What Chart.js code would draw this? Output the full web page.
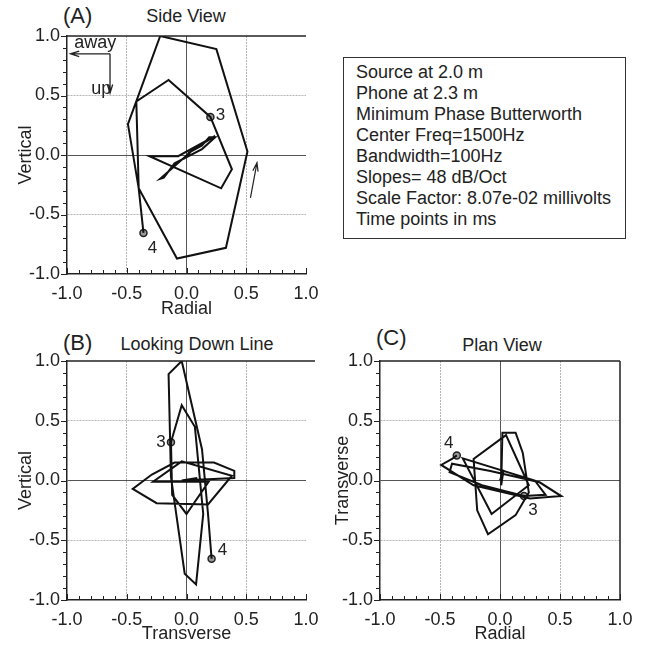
<!DOCTYPE html>
<html>
<head>
<meta charset="utf-8">
<script src="https://cdn.jsdelivr.net/npm/chart.js@4.4.0/dist/chart.umd.min.js"></script>
<style>
body { margin: 0; background: #fff; width: 647px; height: 648px; position: relative; overflow: hidden;
       font-family: "Liberation Sans", Arial, sans-serif; color: #222; }
canvas { position: absolute; }
#cA { left: 0; top: 0; }
#cB { left: 0; top: 330px; }
#cC { left: 320px; top: 330px; }
.tag { position: absolute; font-size: 22px; white-space: nowrap; line-height: 24px; }
.ttl { position: absolute; font-size: 18px; white-space: nowrap; width: 220px; text-align: center; line-height: 22px; }
#info { position: absolute; left: 343px; top: 57px; width: 283px; height: 182px; border: 1.5px solid #333;
        box-sizing: border-box; padding: 4px 0 0 12px; font-size: 18px; line-height: 21px; }
</style>
</head>
<body>
<div class="tag" style="left:63px;top:4px">(A)</div>
<div class="ttl" style="left:76px;top:5px">Side View</div>
<div class="tag" style="left:63px;top:331px">(B)</div>
<div class="ttl" style="left:87px;top:333px">Looking Down Line</div>
<div class="tag" style="left:376px;top:326px">(C)</div>
<div class="ttl" style="left:392px;top:334px">Plan View</div>
<div id="info">
Source at 2.0 m<br>
Phone at 2.3 m<br>
Minimum Phase Butterworth<br>
Center Freq=1500Hz<br>
Bandwidth=100Hz<br>
Slopes= 48 dB/Oct<br>
Scale Factor: 8.07e-02 millivolts<br>
Time points in ms
</div>
<canvas id="cA" width="330" height="325"></canvas>
<canvas id="cB" width="330" height="318"></canvas>
<canvas id="cC" width="327" height="318"></canvas>
<script>
// particle motion, one vertex per sample, in time order
const radial     = [0.00, 0.03, 0.01, 0.02, 0.13, 0.19, 0.24, 0.13, -0.10, -0.19, -0.22, 0.05, 0.24, -0.07, -0.31,
                    0.29, 0.38, 0.20, -0.15, -0.42, -0.40, -0.08, 0.33, 0.51, 0.25, -0.22, -0.49, -0.40, -0.36];
const transverse = [0.00, 0.09, -0.04, 0.40, 0.40, 0.23, -0.10, -0.29, -0.45, -0.25, 0.18, 0.38, -0.04, -0.28, 0.185,
                    0.00, -0.12, -0.13, -0.04, 0.07, 0.14, 0.08, -0.015, -0.13, -0.15, -0.04, 0.13, 0.18, 0.21];
const vertical   = [0.00, 0.02, 0.00, 0.02, 0.08, 0.15, 0.15, 0.05, -0.07, -0.19, -0.20, 0.04, 0.16, -0.01, -0.01,
                    -0.28, -0.12, 0.32, 0.63, 0.45, -0.28, -0.87, -0.78, 0.03, 0.89, 1.00, 0.26, -0.28, -0.655];
const markerIndex = [17, 28];
const markerLabels = ['3', '4'];

const FONT = '"Liberation Sans", Arial, sans-serif';

function tickLabel(v) {
    const k = Math.round(v * 10);
    return k % 5 === 0 ? (k / 10).toFixed(1) : '';
}

function gridColor(c) {
    const k = Math.round(c.tick.value * 10);
    if (k === 0) return '#555';
    if (Math.abs(k) === 5) return '#b4b4b4';
    return 'rgba(0,0,0,0)';
}

function gridDash(c) {
    if (!c.tick) return [];
    return Math.round(c.tick.value * 10) === 0 ? [] : [2, 1];
}

// top/right frame lines and the small tick marks
const frame = {
    id: 'frame',
    afterDraw(chart, args, opts) {
        const { ctx, chartArea: a, scales: { x, y } } = chart;
        ctx.save();
        ctx.strokeStyle = '#222';
        ctx.lineWidth = 1.5;
        ctx.beginPath();
        ctx.moveTo(a.left, a.top);
        ctx.lineTo(a.right + (opts.topExtra || 0), a.top);
        if (opts.right) {
            ctx.moveTo(a.right, a.top);
            ctx.lineTo(a.right, a.bottom);
        }
        ctx.stroke();
        ctx.lineWidth = 1;
        ctx.beginPath();
        y.ticks.forEach(t => {
            const py = Math.round(y.getPixelForValue(t.value)) + 0.5;
            const len = Math.round(t.value * 10) % 5 === 0 ? 6 : 4;
            ctx.moveTo(a.left, py);
            ctx.lineTo(a.left - len, py);
        });
        x.ticks.forEach(t => {
            const px = Math.round(x.getPixelForValue(t.value)) + 0.5;
            const len = Math.round(t.value * 10) % 5 === 0 ? 6 : 4;
            ctx.moveTo(px, a.bottom);
            ctx.lineTo(px, a.bottom - len);
        });
        ctx.stroke();
        ctx.restore();
    }
};

// time labels next to the marked samples
const tags = {
    id: 'tags',
    afterDatasetsDraw(chart, args, opts) {
        const { ctx } = chart;
        const pts = chart.getDatasetMeta(1).data;
        ctx.save();
        ctx.font = '17px ' + FONT;
        ctx.fillStyle = '#222';
        ctx.textAlign = 'center';
        ctx.textBaseline = 'middle';
        pts.forEach((p, i) => {
            const off = opts.offsets[i];
            ctx.fillText(markerLabels[i], p.x + off[0], p.y + off[1]);
        });
        ctx.restore();
    }
};

// orientation arrows of the side view
function arrow(ctx, x0, y0, x1, y1) {
    const ang = Math.atan2(y1 - y0, x1 - x0);
    ctx.beginPath();
    ctx.moveTo(x0, y0);
    ctx.lineTo(x1, y1);
    ctx.moveTo(x1 - 9 * Math.cos(ang - 0.3), y1 - 9 * Math.sin(ang - 0.3));
    ctx.lineTo(x1, y1);
    ctx.lineTo(x1 - 9 * Math.cos(ang + 0.3), y1 - 9 * Math.sin(ang + 0.3));
    ctx.stroke();
}
const notes = {
    id: 'notes',
    afterDatasetsDraw(chart, args, opts) {
        if (!opts.show) return;
        const { ctx, scales: { x, y } } = chart;
        const X = v => x.getPixelForValue(v), Y = v => y.getPixelForValue(v);
        ctx.save();
        ctx.strokeStyle = '#222';
        ctx.lineWidth = 1.3;
        arrow(ctx, X(-0.64), Y(0.85), X(-0.97), Y(0.85));
        arrow(ctx, X(-0.64), Y(0.85), X(-0.64), Y(0.52));
        ctx.lineWidth = 1.2;
        arrow(ctx, X(0.535), Y(-0.36), X(0.59), Y(-0.065));
        ctx.font = '18px ' + FONT;
        ctx.fillStyle = '#222';
        ctx.textBaseline = 'middle';
        ctx.textAlign = 'left';
        ctx.fillText('away', X(-0.94), Y(0.94));
        ctx.textAlign = 'right';
        ctx.fillText('up', X(-0.63), Y(0.555));
        ctx.restore();
    }
};

function makePanel(id, xs, ys, o) {
    const pts = xs.map((v, i) => ({ x: v, y: ys[i] }));
    const marks = markerIndex.map(i => pts[i]);
    const axis = (title, titlePad, size, horizontal) => ({
        type: 'linear',
        min: -1, max: 1,
        afterFit: s => { if (horizontal) s.height = size; else s.width = size; },
        ticks: {
            stepSize: 0.1, maxTicksLimit: 30, autoSkip: false, maxRotation: 0,
            padding: horizontal ? 9 : 7,
            color: '#222', font: { family: FONT, size: 18 },
            callback: tickLabel
        },
        grid: { color: gridColor, lineWidth: 1, drawTicks: false },
        border: { display: true, color: '#222', width: 1.5, dash: gridDash },
        title: { display: true, text: title, color: '#222', font: { family: FONT, size: 18 }, padding: titlePad }
    });
    return new Chart(document.getElementById(id), {
        type: 'scatter',
        data: {
            datasets: [
                { data: pts, showLine: true, borderColor: '#111', borderWidth: 2, pointRadius: 0, tension: 0 },
                { data: marks, pointRadius: 3.5, pointBorderColor: '#222', pointBackgroundColor: '#9a9a9a', pointBorderWidth: 1.5 }
            ]
        },
        options: {
            responsive: false,
            animation: false,
            devicePixelRatio: 1,
            layout: { padding: o.pad },
            plugins: {
                legend: { display: false },
                tooltip: { enabled: false },
                frame: { right: o.right, topExtra: o.topExtra },
                tags: { offsets: o.tagOffsets },
                notes: { show: !!o.notes }
            },
            scales: {
                x: axis(o.xTitle, { top: 0, bottom: o.xTitlePad }, o.xSize, true),
                y: axis(o.yTitle, { top: o.yTitlePad, bottom: 0 }, o.ySize, false)
            }
        },
        plugins: [frame, tags, notes]
    });
}

makePanel('cA', radial, vertical, {
    pad: { left: 0, top: 36, right: 24, bottom: 0 }, xSize: 51, ySize: 67,
    xTitle: 'Radial', yTitle: 'Vertical', xTitlePad: 5, yTitlePad: 15,
    tagOffsets: [[10, -2], [9, 15]], notes: true
});
makePanel('cB', transverse, vertical, {
    pad: { left: 0, top: 31, right: 24, bottom: 0 }, xSize: 48, ySize: 67,
    xTitle: 'Transverse', yTitle: 'Vertical', xTitlePad: 3, yTitlePad: 15,
    tagOffsets: [[-10, 0], [11, -8]], topExtra: 9
});
makePanel('cC', radial, transverse, {
    pad: { left: 0, top: 31, right: 27, bottom: 0 }, xSize: 48, ySize: 60,
    xTitle: 'Radial', yTitle: 'Transverse', xTitlePad: 3, yTitlePad: 12,
    tagOffsets: [[9, 14], [-8, -12]], right: true
});
</script>
</body>
</html>
